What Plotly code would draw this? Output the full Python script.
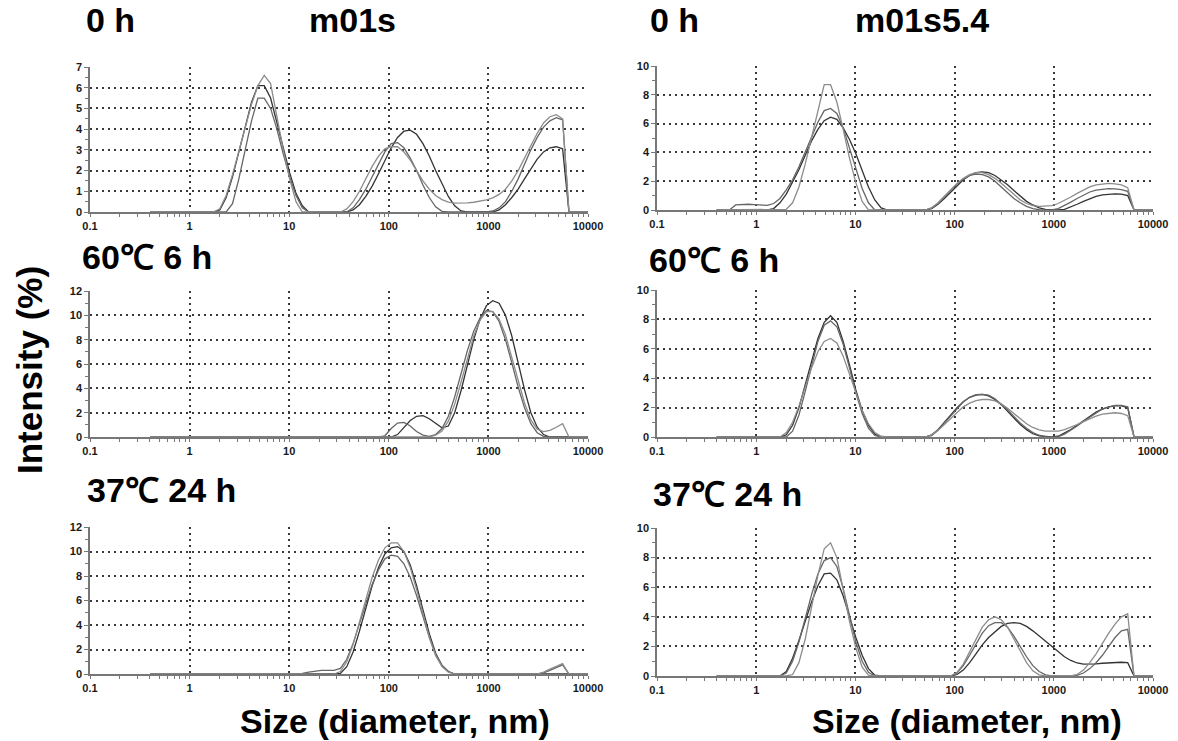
import plotly.graph_objects as go

W, H = 1178, 741

# ---------------- data (size nm, intensity %) ----------------
X_TICKS = [0.1, 1, 10, 100, 1000, 10000]
X_TICK_LABELS = ["0.1", "1", "10", "100", "1000", "10000"]
X_MINOR = [0.2, 0.3, 0.4, 0.5, 0.6, 0.7, 0.8, 0.9,
           2, 3, 4, 5, 6, 7, 8, 9,
           20, 30, 40, 50, 60, 70, 80, 90,
           200, 300, 400, 500, 600, 700, 800, 900,
           2000, 3000, 4000, 5000, 6000, 7000, 8000, 9000]

TITLES_LEFT = ["0 h", "60℃ 6 h", "37℃ 24 h"]
SAMPLES = ["m01s", "m01s5.4"]
X_LABEL = "Size (diameter, nm)"
Y_LABEL = "Intensity (%)"

# m01s, 0 h
m01s_0h_a = [(0.4, 0), (1.736, 0), (2.01, 0.1), (2.328, 0.7), (2.696, 1.7), (3.122, 2.9), (3.615, 4.2),
             (4.187, 5.3), (4.849, 6.1), (5.615, 6.1), (6.503, 5.5), (7.531, 4.3), (8.721, 3.0), (10.1, 1.9),
             (11.7, 0.9), (13.54, 0.3), (15.69, 0),
             (37.84, 0), (43.82, 0.1), (50.75, 0.35), (58.77, 0.75), (68.06, 1.25), (78.82, 1.85), (91.28, 2.5),
             (105.7, 3.1), (122.4, 3.6), (141.8, 3.9), (164.2, 3.95), (190.1, 3.75), (220.2, 3.3), (255.0, 2.7),
             (295.3, 2.0), (342.0, 1.35), (396.1, 0.75), (458.7, 0.3), (531.2, 0.05), (615.1, 0),
             (1106, 0), (1281, 0.1), (1484, 0.35), (1718, 0.7), (1990, 1.1), (2305, 1.6), (2669, 2.1),
             (3091, 2.55), (3580, 2.9), (4145, 3.1), (4801, 3.15), (5560, 3.05), (6439, 0), (10000, 0)]
m01s_0h_b = [(0.4, 0), (2.328, 0), (2.696, 0.4), (3.122, 1.6), (3.615, 3.0), (4.187, 4.4), (4.849, 5.5),
             (5.615, 5.5), (6.503, 5.0), (7.531, 4.0), (8.721, 2.8), (10.1, 1.7), (11.7, 0.8), (13.54, 0.2),
             (15.69, 0),
             (37.84, 0), (43.82, 0.2), (50.75, 0.6), (58.77, 1.1), (68.06, 1.7), (78.82, 2.3), (91.28, 2.9),
             (105.7, 3.3), (122.4, 3.35), (141.8, 3.1), (164.2, 2.6), (190.1, 2.0), (220.2, 1.3), (255.0, 0.7),
             (295.3, 0.25), (342.0, 0.03), (396.1, 0),
             (955.4, 0), (1106, 0.05), (1281, 0.2), (1484, 0.5), (1718, 1.0), (1990, 1.6), (2305, 2.3),
             (2669, 3.0), (3091, 3.6), (3580, 4.1), (4145, 4.4), (4801, 4.55), (5560, 4.45), (6439, 0), (10000, 0)]
m01s_0h_c = [(0.4, 0), (1.736, 0), (2.01, 0.15), (2.328, 0.8), (2.696, 1.8), (3.122, 2.9), (3.615, 4.1),
             (4.187, 5.2), (4.849, 6.1), (5.615, 6.6), (6.503, 6.2), (7.531, 4.6), (8.721, 3.0), (10.1, 1.6),
             (11.7, 0.5), (13.54, 0),
             (32.67, 0), (37.84, 0.15), (43.82, 0.5), (50.75, 1.0), (58.77, 1.6), (68.06, 2.2), (78.82, 2.7),
             (91.28, 3.05), (105.7, 3.15), (122.4, 3.15), (141.8, 2.9), (164.2, 2.5), (190.1, 2.0), (220.2, 1.5),
             (255.0, 1.1), (295.3, 0.8), (342.0, 0.6), (396.1, 0.48), (458.7, 0.43), (531.2, 0.42),
             (615.1, 0.44), (712.4, 0.47), (825.0, 0.52), (955.4, 0.58), (1106, 0.68), (1281, 0.85),
             (1484, 1.1), (1718, 1.5), (1990, 2.0), (2305, 2.6), (2669, 3.2), (3091, 3.8), (3580, 4.3),
             (4145, 4.6), (4801, 4.7), (5560, 4.5), (6439, 0), (10000, 0)]

# m01s5.4, 0 h
m01s54_0h_a = [(0.4, 0), (1.294, 0), (1.499, 0.1), (1.736, 0.5), (2.01, 1.1), (2.328, 1.9), (2.696, 2.8),
               (3.122, 3.8), (3.615, 4.8), (4.187, 5.6), (4.849, 6.2), (5.615, 6.45), (6.503, 6.3),
               (7.531, 5.7), (8.721, 4.9), (10.1, 3.9), (11.7, 2.7), (13.54, 1.6), (15.69, 0.7),
               (18.17, 0.15), (21.04, 0),
               (50.75, 0), (58.77, 0.1), (68.06, 0.4), (78.82, 0.8), (91.28, 1.25), (105.7, 1.7), (122.4, 2.1),
               (141.8, 2.4), (164.2, 2.6), (190.1, 2.65), (220.2, 2.6), (255.0, 2.4), (295.3, 2.1),
               (342.0, 1.75), (396.1, 1.35), (458.7, 0.95), (531.2, 0.6), (615.1, 0.35), (712.4, 0.15),
               (825.0, 0.05), (955.4, 0), (1106, 0), (1281, 0.05), (1484, 0.2), (1718, 0.4), (1990, 0.6),
               (2305, 0.8), (2669, 0.95), (3091, 1.05), (3580, 1.1), (4145, 1.12), (4801, 1.1), (5560, 1.0),
               (6439, 0), (10000, 0)]
m01s54_0h_b = [(0.4, 0), (0.5365, 0), (0.6213, 0.35), (0.7195, 0.4), (0.8332, 0.4), (0.9649, 0.38),
               (1.117, 0.33), (1.294, 0.32), (1.499, 0.45), (1.736, 0.8), (2.01, 1.4), (2.328, 2.1),
               (2.696, 3.0), (3.122, 4.0), (3.615, 5.1), (4.187, 6.1), (4.849, 6.9), (5.615, 7.05),
               (6.503, 6.7), (7.531, 5.7), (8.721, 4.3), (10.1, 2.9), (11.7, 1.5), (13.54, 0.5), (15.69, 0),
               (50.75, 0), (58.77, 0.15), (68.06, 0.45), (78.82, 0.9), (91.28, 1.35), (105.7, 1.8),
               (122.4, 2.15), (141.8, 2.4), (164.2, 2.5), (190.1, 2.45), (220.2, 2.3), (255.0, 2.0),
               (295.3, 1.6), (342.0, 1.2), (396.1, 0.8), (458.7, 0.5), (531.2, 0.25), (615.1, 0.1),
               (712.4, 0.02), (825.0, 0), (955.4, 0), (1106, 0.1), (1281, 0.3), (1484, 0.55), (1718, 0.8),
               (1990, 1.05), (2305, 1.25), (2669, 1.38), (3091, 1.45), (3580, 1.48), (4145, 1.47),
               (4801, 1.42), (5560, 1.3), (6439, 0), (10000, 0)]
m01s54_0h_c = [(0.4, 0), (1.736, 0), (2.01, 0.05), (2.328, 0.5), (2.696, 1.6), (3.122, 3.2), (3.615, 5.0),
               (4.187, 6.8), (4.849, 8.7), (5.615, 8.7), (6.503, 7.5), (7.531, 5.6), (8.721, 3.6), (10.1, 1.9),
               (11.7, 0.6), (13.54, 0),
               (50.75, 0), (58.77, 0.15), (68.06, 0.5), (78.82, 0.95), (91.28, 1.4), (105.7, 1.85),
               (122.4, 2.2), (141.8, 2.45), (164.2, 2.6), (190.1, 2.6), (220.2, 2.45), (255.0, 2.2),
               (295.3, 1.85), (342.0, 1.45), (396.1, 1.05), (458.7, 0.7), (531.2, 0.45), (615.1, 0.3),
               (712.4, 0.25), (825.0, 0.25), (955.4, 0.3), (1106, 0.45), (1281, 0.65), (1484, 0.9),
               (1718, 1.15), (1990, 1.4), (2305, 1.6), (2669, 1.75), (3091, 1.82), (3580, 1.85), (4145, 1.82),
               (4801, 1.75), (5560, 1.55), (6439, 0), (10000, 0)]

# m01s, 60℃ 6 h
m01s_60c_a = [(0.4, 0), (105.7, 0), (122.4, 0.2), (141.8, 0.8), (164.2, 1.35), (190.1, 1.7), (220.2, 1.75),
              (255.0, 1.5), (295.3, 1.1), (342.0, 0.75), (396.1, 0.9), (458.7, 2.0), (531.2, 3.8),
              (615.1, 5.9), (712.4, 8.0), (825.0, 9.7), (955.4, 10.8), (1106, 11.2), (1281, 11.0),
              (1484, 10.0), (1718, 8.3), (1990, 6.1), (2305, 3.9), (2669, 2.0), (3091, 0.8), (3580, 0.2),
              (4145, 0), (10000, 0)]
m01s_60c_b = [(0.4, 0), (78.82, 0), (91.28, 0.1), (105.7, 0.7), (122.4, 1.15), (141.8, 1.2), (164.2, 0.9),
              (190.1, 0.45), (220.2, 0.15), (255.0, 0.05), (295.3, 0.2), (342.0, 0.7), (396.1, 1.7),
              (458.7, 3.3), (531.2, 5.2), (615.1, 7.1), (712.4, 8.7), (825.0, 9.8), (955.4, 10.4),
              (1106, 10.3), (1281, 9.5), (1484, 8.0), (1718, 6.1), (1990, 4.1), (2305, 2.4), (2669, 1.1),
              (3091, 0.35), (3580, 0.05), (4145, 0), (10000, 0)]
m01s_60c_c = [(0.4, 0), (255.0, 0), (295.3, 0.15), (342.0, 0.5), (396.1, 1.3), (458.7, 2.7), (531.2, 4.5),
              (615.1, 6.5), (712.4, 8.3), (825.0, 9.6), (955.4, 10.3), (1106, 10.3), (1281, 9.7),
              (1484, 8.4), (1718, 6.6), (1990, 4.6), (2305, 2.8), (2669, 1.4), (3091, 0.65), (3580, 0.45),
              (4145, 0.55), (4801, 0.8), (5560, 1.1), (6439, 0), (10000, 0)]

# m01s5.4, 60℃ 6 h
m01s54_60c_a = [(0.4, 0), (1.736, 0), (2.01, 0.15), (2.328, 0.8), (2.696, 2.0), (3.122, 3.6), (3.615, 5.2),
                (4.187, 6.7), (4.849, 7.8), (5.615, 8.25), (6.503, 7.8), (7.531, 6.5), (8.721, 4.9),
                (10.1, 3.2), (11.7, 1.8), (13.54, 0.8), (15.69, 0.2), (18.17, 0),
                (50.75, 0), (58.77, 0.15), (68.06, 0.5), (78.82, 1.0), (91.28, 1.5), (105.7, 2.0),
                (122.4, 2.4), (141.8, 2.7), (164.2, 2.85), (190.1, 2.9), (220.2, 2.8), (255.0, 2.55),
                (295.3, 2.2), (342.0, 1.75), (396.1, 1.3), (458.7, 0.85), (531.2, 0.5), (615.1, 0.22),
                (712.4, 0.07), (825.0, 0.01), (955.4, 0), (1106, 0.05), (1281, 0.25), (1484, 0.5),
                (1718, 0.8), (1990, 1.1), (2305, 1.4), (2669, 1.7), (3091, 1.9), (3580, 2.05), (4145, 2.12),
                (4801, 2.12), (5560, 2.0), (6439, 0), (10000, 0)]
m01s54_60c_b = [(0.4, 0), (2.01, 0), (2.328, 0.4), (2.696, 1.5), (3.122, 3.1), (3.615, 4.9), (4.187, 6.5),
                (4.849, 7.6), (5.615, 7.9), (6.503, 7.5), (7.531, 6.3), (8.721, 4.7), (10.1, 3.0), (11.7, 1.6),
                (13.54, 0.6), (15.69, 0.1), (18.17, 0),
                (50.75, 0), (58.77, 0.1), (68.06, 0.45), (78.82, 0.95), (91.28, 1.45), (105.7, 1.95),
                (122.4, 2.4), (141.8, 2.7), (164.2, 2.88), (190.1, 2.9), (220.2, 2.85), (255.0, 2.6),
                (295.3, 2.25), (342.0, 1.85), (396.1, 1.4), (458.7, 0.95), (531.2, 0.6), (615.1, 0.3),
                (712.4, 0.12), (825.0, 0.03), (955.4, 0), (1106, 0.02), (1281, 0.2), (1484, 0.45),
                (1718, 0.75), (1990, 1.05), (2305, 1.35), (2669, 1.65), (3091, 1.9), (3580, 2.05),
                (4145, 2.15), (4801, 2.15), (5560, 2.05), (6439, 0), (10000, 0)]
m01s54_60c_c = [(0.4, 0), (1.736, 0), (2.01, 0.3), (2.328, 1.0), (2.696, 2.1), (3.122, 3.4), (3.615, 4.7),
                (4.187, 5.8), (4.849, 6.5), (5.615, 6.7), (6.503, 6.4), (7.531, 5.5), (8.721, 4.3),
                (10.1, 3.0), (11.7, 1.8), (13.54, 0.9), (15.69, 0.3), (18.17, 0.05), (21.04, 0),
                (50.75, 0), (58.77, 0.15), (68.06, 0.45), (78.82, 0.85), (91.28, 1.3), (105.7, 1.7),
                (122.4, 2.05), (141.8, 2.3), (164.2, 2.48), (190.1, 2.55), (220.2, 2.55), (255.0, 2.45),
                (295.3, 2.25), (342.0, 1.95), (396.1, 1.6), (458.7, 1.25), (531.2, 0.9), (615.1, 0.65),
                (712.4, 0.48), (825.0, 0.4), (955.4, 0.38), (1106, 0.4), (1281, 0.5), (1484, 0.65),
                (1718, 0.85), (1990, 1.05), (2305, 1.25), (2669, 1.42), (3091, 1.55), (3580, 1.62),
                (4145, 1.65), (4801, 1.6), (5560, 1.45), (6439, 0), (10000, 0)]

# m01s, 37℃ 24 h
m01s_37c_a = [(0.4, 0), (28.21, 0), (32.67, 0.05), (37.84, 0.6), (43.82, 1.8), (50.75, 3.5), (58.77, 5.4),
              (68.06, 7.2), (78.82, 8.7), (91.28, 9.8), (105.7, 10.3), (122.4, 10.4), (141.8, 10.0),
              (164.2, 8.9), (190.1, 7.2), (220.2, 5.2), (255.0, 3.3), (295.3, 1.7), (342.0, 0.7),
              (396.1, 0.2), (458.7, 0), (10000, 0)]
m01s_37c_b = [(0.4, 0), (11.7, 0), (13.54, 0.05), (15.69, 0.15), (18.17, 0.25), (21.04, 0.3), (24.36, 0.3),
              (28.21, 0.3), (32.67, 0.45), (37.84, 1.2), (43.82, 2.5), (50.75, 4.1), (58.77, 5.8),
              (68.06, 7.3), (78.82, 8.5), (91.28, 9.4), (105.7, 9.7), (122.4, 9.6), (141.8, 9.0),
              (164.2, 7.9), (190.1, 6.4), (220.2, 4.7), (255.0, 3.0), (295.3, 1.6), (342.0, 0.7),
              (396.1, 0.2), (458.7, 0), (3091, 0), (3580, 0.1), (4145, 0.3), (4801, 0.55), (5560, 0.75),
              (6439, 0), (10000, 0)]
m01s_37c_c = [(0.4, 0), (28.21, 0), (32.67, 0.2), (37.84, 1.0), (43.82, 2.4), (50.75, 4.2), (58.77, 6.1),
              (68.06, 7.9), (78.82, 9.3), (91.28, 10.3), (105.7, 10.7), (122.4, 10.7), (141.8, 10.0),
              (164.2, 8.7), (190.1, 6.9), (220.2, 4.9), (255.0, 3.0), (295.3, 1.5), (342.0, 0.6),
              (396.1, 0.15), (458.7, 0), (3091, 0), (3580, 0.15), (4145, 0.4), (4801, 0.65), (5560, 0.85),
              (6439, 0), (10000, 0)]

# m01s5.4, 37℃ 24 h
m01s54_37c_a = [(0.4, 0), (1.736, 0), (2.01, 0.3), (2.328, 1.2), (2.696, 2.4), (3.122, 3.7), (3.615, 5.0),
                (4.187, 6.1), (4.849, 6.9), (5.615, 6.95), (6.503, 6.5), (7.531, 5.4), (8.721, 4.0),
                (10.1, 2.6), (11.7, 1.4), (13.54, 0.5), (15.69, 0.05), (18.17, 0),
                (91.28, 0), (105.7, 0.1), (122.4, 0.4), (141.8, 0.9), (164.2, 1.5), (190.1, 2.1), (220.2, 2.6),
                (255.0, 3.0), (295.3, 3.35), (342.0, 3.55), (396.1, 3.6), (458.7, 3.55), (531.2, 3.35),
                (615.1, 3.05), (712.4, 2.7), (825.0, 2.3), (955.4, 1.95), (1106, 1.6), (1281, 1.3),
                (1484, 1.05), (1718, 0.88), (1990, 0.8), (2305, 0.8), (2669, 0.82), (3091, 0.86),
                (3580, 0.9), (4145, 0.93), (4801, 0.93), (5560, 0.9), (6439, 0), (10000, 0)]
m01s54_37c_b = [(0.4, 0), (1.736, 0), (2.01, 0.2), (2.328, 1.0), (2.696, 2.3), (3.122, 3.9), (3.615, 5.5),
                (4.187, 6.9), (4.849, 7.8), (5.615, 8.0), (6.503, 7.4), (7.531, 5.9), (8.721, 4.0),
                (10.1, 2.3), (11.7, 1.0), (13.54, 0.25), (15.69, 0),
                (91.28, 0), (105.7, 0.2), (122.4, 0.7), (141.8, 1.4), (164.2, 2.2), (190.1, 2.9), (220.2, 3.4),
                (255.0, 3.6), (295.3, 3.6), (342.0, 3.3), (396.1, 2.7), (458.7, 2.0), (531.2, 1.3),
                (615.1, 0.7), (712.4, 0.3), (825.0, 0.08), (955.4, 0), (1484, 0), (1718, 0.05), (1990, 0.2),
                (2305, 0.5), (2669, 0.9), (3091, 1.4), (3580, 2.0), (4145, 2.6), (4801, 3.05), (5560, 3.15),
                (6439, 0), (10000, 0)]
m01s54_37c_c = [(0.4, 0), (2.01, 0), (2.328, 0.1), (2.696, 0.9), (3.122, 2.5), (3.615, 4.6), (4.187, 6.8),
                (4.849, 8.6), (5.615, 9.0), (6.503, 8.0), (7.531, 5.9), (8.721, 3.7), (10.1, 1.9), (11.7, 0.6),
                (13.54, 0.05), (15.69, 0),
                (91.28, 0), (105.7, 0.25), (122.4, 0.8), (141.8, 1.6), (164.2, 2.5), (190.1, 3.3),
                (220.2, 3.8), (255.0, 4.0), (295.3, 3.8), (342.0, 3.3), (396.1, 2.5), (458.7, 1.7),
                (531.2, 0.9), (615.1, 0.35), (712.4, 0.08), (825.0, 0), (1484, 0), (1718, 0.1), (1990, 0.4),
                (2305, 0.9), (2669, 1.5), (3091, 2.2), (3580, 2.9), (4145, 3.5), (4801, 4.0), (5560, 4.2),
                (6439, 0), (10000, 0)]

# y-axis scale of each panel: (max, major step, minor step)
Y_SCALES = [(7, 1, 0.5), (10, 2, 1), (12, 2, 1), (10, 2, 1), (12, 2, 1), (10, 2, 1)]

PANEL_SERIES = [
    [m01s_0h_a, m01s_0h_b, m01s_0h_c],
    [m01s54_0h_a, m01s54_0h_b, m01s54_0h_c],
    [m01s_60c_a, m01s_60c_b, m01s_60c_c],
    [m01s54_60c_a, m01s54_60c_b, m01s54_60c_c],
    [m01s_37c_a, m01s_37c_b, m01s_37c_c],
    [m01s54_37c_a, m01s54_37c_b, m01s54_37c_c],
]

# ---------------- layout geometry (pixels) ----------------
COL_PX = [(90, 588), (657, 1153)]
ROW_PX = [[(67, 212), (66, 210)], [(291, 437), (290, 437)], [(527, 674), (528, 676)]]
LINE_COLORS = ["#333333", "#666666", "#8c8c8c"]
FONT = "Liberation Sans, Arial, sans-serif"


def fx(p):
    return p / W


def fy(p):
    return 1 - p / H


fig = go.Figure()
layout = dict(width=W, height=H, margin=dict(l=0, r=0, t=0, b=0, autoexpand=False),
              paper_bgcolor="white", plot_bgcolor="white", showlegend=False)

for i, series in enumerate(PANEL_SERIES):
    row, col = divmod(i, 2)
    n = "" if i == 0 else str(i + 1)
    for k, s in enumerate(series):
        fig.add_trace(go.Scatter(
            x=[p[0] for p in s], y=[p[1] for p in s], mode="lines",
            line=dict(color=LINE_COLORS[k], width=1.3),
            xaxis="x" + n, yaxis="y" + n, hoverinfo="skip"))
    x0, x1 = COL_PX[col]
    y0, y1 = ROW_PX[row][col]
    ymax, ystep, yminor = Y_SCALES[i]
    tickfont = dict(family=FONT, size=11, color="#1a1a1a", weight="bold")
    layout["xaxis" + n] = dict(
        type="log", range=[-1, 4], domain=[fx(x0), fx(x1)], anchor="y" + n, automargin=False,
        tickmode="array", tickvals=X_TICKS, ticktext=X_TICK_LABELS,
        showgrid=True, gridcolor="#3a3a3a", griddash="1.5px,4.5px", gridwidth=1.5,
        showline=True, linecolor="#777", linewidth=1.5, zeroline=False,
        ticks="outside", ticklen=3, tickcolor="#777", tickwidth=1,
        minor=dict(tickmode="array", tickvals=X_MINOR, ticks="outside", ticklen=3,
                   tickcolor="#777", showgrid=False),
        tickfont=tickfont, fixedrange=True)
    layout["yaxis" + n] = dict(
        range=[0, ymax], domain=[fy(y1), fy(y0)], anchor="x" + n, automargin=False,
        tick0=0, dtick=ystep,
        showgrid=True, gridcolor="#3a3a3a", griddash="1.5px,4.5px", gridwidth=1.5,
        showline=True, linecolor="#777", linewidth=1.5, zeroline=False,
        ticks="outside", ticklen=4, tickcolor="#777", tickwidth=1,
        minor=dict(dtick=yminor, ticks="outside", ticklen=3, tickcolor="#777", showgrid=False),
        tickfont=tickfont, fixedrange=True)

title_font = dict(family=FONT, size=34, color="black", weight="bold")
ann = []
# row titles
ROW_TITLE_PX = [[(84, 20), (648, 20)], [(80, 257), (647, 260)], [(85, 490), (651, 494)]]
for r in range(3):
    for c in range(2):
        px, py = ROW_TITLE_PX[r][c]
        ann.append(dict(text=TITLES_LEFT[r], x=fx(px), y=fy(py), xref="paper", yref="paper",
                        xanchor="left", yanchor="middle", showarrow=False, font=title_font))
# sample names
for c, (px, py) in enumerate([(352, 20), (922, 20)]):
    ann.append(dict(text=SAMPLES[c], x=fx(px), y=fy(py), xref="paper", yref="paper",
                    xanchor="center", yanchor="middle", showarrow=False, font=title_font))
# axis labels
label_font = dict(family=FONT, size=34, color="black", weight="bold")
for px in (395, 967):
    ann.append(dict(text=X_LABEL, x=fx(px), y=fy(721), xref="paper", yref="paper",
                    xanchor="center", yanchor="middle", showarrow=False, font=label_font))
ann.append(dict(text=Y_LABEL, x=fx(29), y=fy(370), xref="paper", yref="paper", textangle=-90,
                xanchor="center", yanchor="middle", showarrow=False,
                font=dict(family=FONT, size=35, color="black", weight="bold")))
layout["annotations"] = ann

fig.update_layout(**layout)
# remove the default page margin so the figure sits at the top-left corner of the window
fig.write_html("out.html", config={"displayModeBar": False},
               post_script="document.body.style.margin='0';document.body.style.overflow='hidden';")
